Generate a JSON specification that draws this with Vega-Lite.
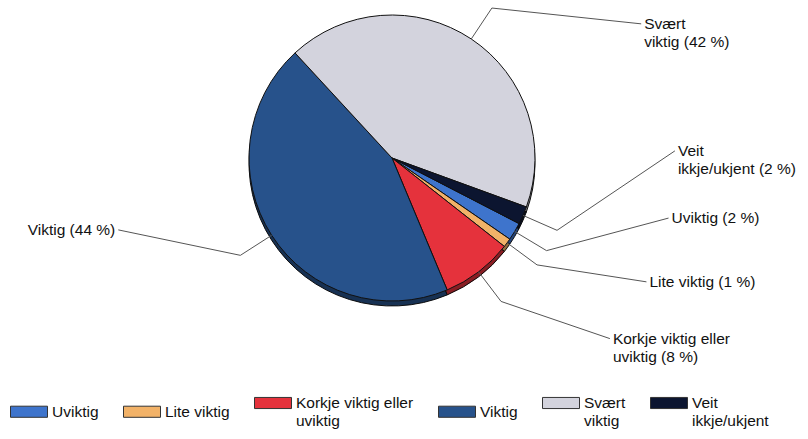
{
  "$schema": "https://vega.github.io/schema/vega-lite/v6.json",
  "width": 784,
  "height": 316,
  "autosize": {"type": "none"},
  "padding": {"left": 0, "top": 0, "right": 24, "bottom": 123},
  "background": "white",
  "config": {"view": {"stroke": null}, "font": "Liberation Sans"},
  "data": {
    "values": [
      {"kategori": "Uviktig", "prosent": 2, "ord": 1},
      {"kategori": "Lite viktig", "prosent": 1, "ord": 2},
      {"kategori": "Korkje viktig eller\nuviktig", "prosent": 8, "ord": 3},
      {"kategori": "Viktig", "prosent": 44, "ord": 4},
      {"kategori": "Svært\nviktig", "prosent": 42, "ord": 5},
      {"kategori": "Veit\nikkje/ukjent", "prosent": 2, "ord": 6}
    ]
  },
  "transform": [
    {"window": [{"op": "sum", "field": "prosent", "as": "cum"}], "sort": [{"field": "ord"}], "frame": [null, 0]},
    {"joinaggregate": [{"op": "sum", "field": "prosent", "as": "total"}]},
    {"calculate": "(117.3 + (datum.cum - datum.prosent / 2) / datum.total * 360) % 360", "as": "mid"},
    {"calculate": "datum.mid < 180 ? 1 : -1", "as": "side"},
    {"calculate": "datum.mid < 180 ? 90 + 0.5 * (datum.mid - 90) : 270 + 0.45 * (datum.mid - 270)", "as": "c"},
    {"window": [{"op": "row_number", "as": "rn"}], "sort": [{"field": "mid"}]},
    {"calculate": "datum.c - 13.7 * (datum.rn - 1)", "as": "s"},
    {"window": [{"op": "max", "field": "s", "as": "smax"}], "sort": [{"field": "mid"}], "frame": [null, 0]},
    {"window": [{"op": "min", "field": "s", "as": "smin"}], "sort": [{"field": "mid"}], "frame": [0, null]},
    {"calculate": "(datum.smax + datum.smin) / 2 + 13.7 * (datum.rn - 1)", "as": "la"},
    {"calculate": "sin(datum.mid * PI / 180)", "as": "px"},
    {"calculate": "cos(datum.mid * PI / 180)", "as": "py"},
    {"calculate": "1.26 * sin(datum.mid * PI / 180)", "as": "ex"},
    {"calculate": "1.26 * cos(datum.mid * PI / 180)", "as": "ey"},
    {"calculate": "1.979 * sin(datum.la * PI / 180)", "as": "lx"},
    {"calculate": "1.979 * cos(datum.la * PI / 180)", "as": "ly"},
    {"calculate": "datum.kategori + ' (' + datum.prosent + ' %)'", "as": "etikett"}
  ],
  "layer": [
    {
      "mark": {"type": "arc", "outerRadius": 143, "yOffset": 5, "stroke": "#111", "strokeWidth": 1},
      "encoding": {
        "theta": {"field": "prosent", "type": "quantitative", "stack": true, "scale": {"range": [2.0473, 8.3305]}},
        "order": {"field": "ord", "type": "quantitative"},
        "color": {
          "field": "kategori",
          "type": "nominal",
          "sort": {"field": "ord", "op": "min"},
          "scale": {"range": ["#3e74cc", "#f2b268", "#e5323c", "#27528b", "#d3d3dd", "#0c1530"]},
          "legend": {
            "orient": "none",
            "legendX": 10,
            "legendY": 384,
            "direction": "horizontal",
            "columns": 6,
            "title": null,
            "labelExpr": "split(datum.label, '\\n')",
            "symbolType": "M-1,-0.3L1,-0.3L1,0.3L-1,0.3Z",
            "symbolSize": 1369,
            "symbolStrokeColor": "#333",
            "symbolStrokeWidth": 1,
            "symbolOpacity": 1,
            "labelFont": "Liberation Sans",
            "labelFontSize": 15.5,
            "labelColor": "#111",
            "labelOffset": 4,
            "labelLimit": 200,
            "columnPadding": 22
          }
        }
      }
    },
    {
      "mark": {"type": "arc", "outerRadius": 143, "yOffset": 5, "fill": "#000", "opacity": 0.4},
      "encoding": {
        "theta": {"field": "prosent", "type": "quantitative", "stack": true, "scale": {"range": [2.0473, 8.3305]}},
        "order": {"field": "ord", "type": "quantitative"}
      }
    },
    {
      "mark": {"type": "arc", "outerRadius": 143, "stroke": "#111", "strokeWidth": 1},
      "encoding": {
        "theta": {"field": "prosent", "type": "quantitative", "stack": true, "scale": {"range": [2.0473, 8.3305]}},
        "order": {"field": "ord", "type": "quantitative"},
        "color": {
          "field": "kategori",
          "type": "nominal",
          "sort": {"field": "ord", "op": "min"},
          "scale": {"range": ["#3e74cc", "#f2b268", "#e5323c", "#27528b", "#d3d3dd", "#0c1530"]},
          "legend": {
            "orient": "none",
            "legendX": 10,
            "legendY": 384,
            "direction": "horizontal",
            "columns": 6,
            "title": null,
            "labelExpr": "split(datum.label, '\\n')",
            "symbolType": "M-1,-0.3L1,-0.3L1,0.3L-1,0.3Z",
            "symbolSize": 1369,
            "symbolStrokeColor": "#333",
            "symbolStrokeWidth": 1,
            "symbolOpacity": 1,
            "labelFont": "Liberation Sans",
            "labelFontSize": 15.5,
            "labelColor": "#111",
            "labelOffset": 4,
            "labelLimit": 200,
            "columnPadding": 22
          }
        }
      }
    },
    {
      "mark": {"type": "rule", "color": "#555", "strokeWidth": 1},
      "encoding": {
        "x": {"field": "px", "type": "quantitative", "scale": {"domain": [-2.7413, 2.7413], "nice": false, "zero": false}, "axis": null},
        "y": {"field": "py", "type": "quantitative", "scale": {"domain": [-1.1049, 1.1049], "nice": false, "zero": false}, "axis": null},
        "x2": {"field": "ex"},
        "y2": {"field": "ey"}
      }
    },
    {
      "mark": {"type": "rule", "color": "#555", "strokeWidth": 1},
      "encoding": {
        "x": {"field": "ex", "type": "quantitative"},
        "y": {"field": "ey", "type": "quantitative"},
        "x2": {"field": "lx"},
        "y2": {"field": "ly"}
      }
    },
    {
      "transform": [{"filter": "datum.side == 1"}],
      "mark": {"type": "text", "align": "left", "baseline": "middle", "dx": 3, "lineBreak": "\n", "lineHeight": 18, "fontSize": 15.5, "font": "Liberation Sans", "color": "#111"},
      "encoding": {
        "x": {"field": "lx", "type": "quantitative"},
        "y": {"field": "ly", "type": "quantitative"},
        "text": {"field": "etikett", "type": "nominal"}
      }
    },
    {
      "transform": [{"filter": "datum.side == -1"}],
      "mark": {"type": "text", "align": "right", "baseline": "middle", "dx": -3, "lineBreak": "\n", "lineHeight": 18, "fontSize": 15.5, "font": "Liberation Sans", "color": "#111"},
      "encoding": {
        "x": {"field": "lx", "type": "quantitative"},
        "y": {"field": "ly", "type": "quantitative"},
        "text": {"field": "etikett", "type": "nominal"}
      }
    }
  ],
  "resolve": {"scale": {"theta": "shared"}}
}
